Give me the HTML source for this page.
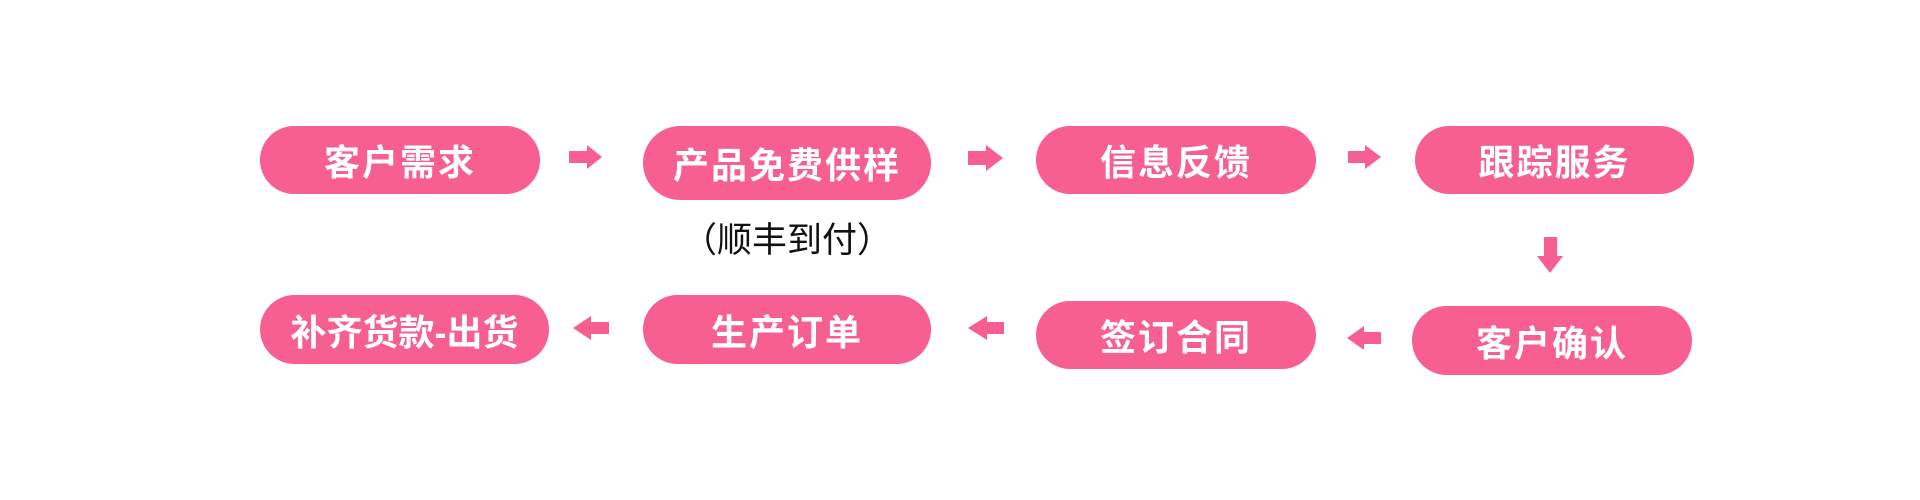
<!DOCTYPE html>
<html><head><meta charset="utf-8"><style>
body{margin:0;width:1920px;height:500px;background:#fff;position:relative;overflow:hidden;font-family:"Liberation Sans","Noto Sans CJK SC",sans-serif}
.p{position:absolute;background:#f65f8f;border-radius:40px;color:#fff;font-weight:bold;font-size:36px;display:flex;align-items:center;justify-content:center;letter-spacing:2px}
.s{position:absolute;font-size:35px;color:#111;left:643px;width:288px;text-align:center;top:212px}
svg{position:absolute;left:0;top:0}
</style></head><body>
<div class="p" style="left:260px;top:126px;width:280px;height:68px">客户需求</div>
<div class="p" style="left:643px;top:126px;width:288px;height:74px">产品免费供样</div>
<div class="p" style="left:1036px;top:126px;width:280px;height:68px">信息反馈</div>
<div class="p" style="left:1415px;top:126px;width:279px;height:68px">跟踪服务</div>
<div class="s">（顺丰到付）</div>
<div class="p" style="left:260px;top:295px;width:289px;height:69px;letter-spacing:0px">补齐货款-出货</div>
<div class="p" style="left:643px;top:295px;width:288px;height:69px">生产订单</div>
<div class="p" style="left:1036px;top:301px;width:280px;height:68px">签订合同</div>
<div class="p" style="left:1412px;top:306px;width:280px;height:69px">客户确认</div>
<svg width="1920" height="500" fill="#f65f8f">
<polygon points="569,151 587,151 587,145 602,157 587,169 587,163 569,163"/>
<polygon points="968,151 986,151 986,145 1003,158 986,171 986,165 968,165"/>
<polygon points="1348,151 1365,151 1365,145 1381,157 1365,169 1365,163 1348,163"/>
<polygon points="1544,237 1557,237 1557,256 1563,256 1550,273 1537,256 1544,256"/>
<polygon points="1381,332 1364,332 1364,326 1347,338 1364,350 1364,344 1381,344"/>
<polygon points="1004,322 987,322 987,316 968,328 987,340 987,334 1004,334"/>
<polygon points="609,322 591,322 591,316 573,328 591,340 591,334 609,334"/>
</svg>
</body></html>
